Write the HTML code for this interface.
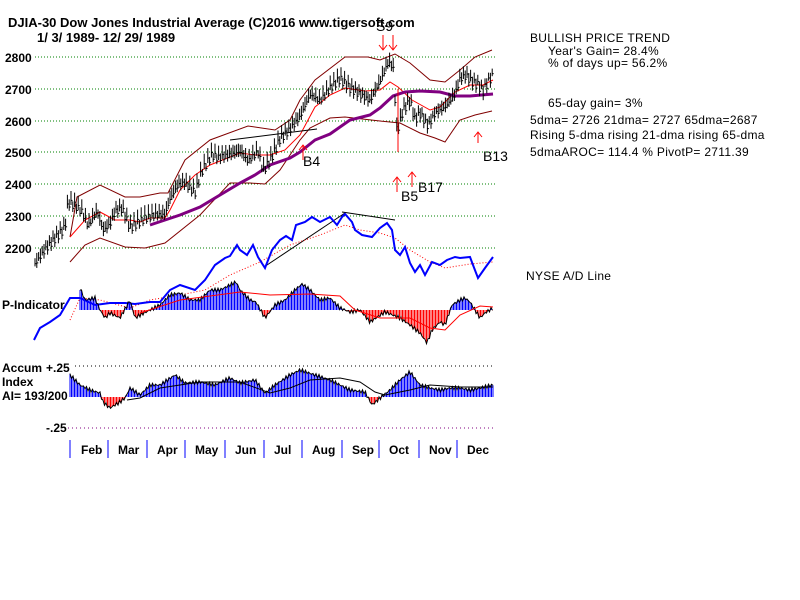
<!DOCTYPE html>
<html><head><meta charset="utf-8"><style>
html,body{margin:0;padding:0;background:#fff;}
svg{display:block;font-family:"Liberation Sans",sans-serif;}
</style></head><body>
<svg id="s" width="800" height="600" xmlns="http://www.w3.org/2000/svg">
<g font-size="12" fill="#000">
<text x="8" y="27" font-weight="bold" font-size="13">DJIA-30  Dow Jones Industrial Average   (C)2016 www.tigersoft.com</text>
<text x="37" y="42" font-weight="bold" font-size="13">1/ 3/ 1989- 12/ 29/ 1989</text>
<text x="5" y="62" font-weight="bold">2800</text>
<text x="5" y="94" font-weight="bold">2700</text>
<text x="5" y="126" font-weight="bold">2600</text>
<text x="5" y="157" font-weight="bold">2500</text>
<text x="5" y="189" font-weight="bold">2400</text>
<text x="5" y="221" font-weight="bold">2300</text>
<text x="5" y="253" font-weight="bold">2200</text>
<g letter-spacing="0.3">
<text x="530" y="42">BULLISH PRICE TREND</text>
<text x="548" y="55">Year's Gain= 28.4%</text>
<text x="548" y="67">% of days up= 56.2%</text>
<text x="548" y="107">65-day gain= 3%</text>
<text x="530" y="124">5dma= 2726 21dma= 2727 65dma=2687</text>
<text x="530" y="139">Rising 5-dma rising 21-dma rising 65-dma</text>
<text x="530" y="156">5dmaAROC= 114.4 %  PivotP= 2711.39</text>
<text x="526" y="280">NYSE A/D Line</text>
</g>
<text x="2" y="309" font-weight="bold">P-Indicator</text>
<text x="2" y="372" font-weight="bold">Accum</text>
<text x="2" y="386" font-weight="bold">Index</text>
<text x="2" y="400" font-weight="bold">AI= 193/200</text>
<text x="46" y="372" font-weight="bold">+.25</text>
<text x="46" y="432" font-weight="bold">-.25</text>
<text x="376" y="31" font-size="14">S9</text>
<text x="303" y="166" font-size="14">B4</text>
<text x="401" y="201" font-size="14">B5</text>
<text x="418" y="192" font-size="14">B17</text>
<text x="483" y="161" font-size="14">B13</text>
<g font-size="12" font-weight="bold">
<text x="81" y="454">Feb</text><text x="118" y="454">Mar</text><text x="157" y="454">Apr</text><text x="195" y="454">May</text><text x="235" y="454">Jun</text><text x="274" y="454">Jul</text><text x="312" y="454">Aug</text><text x="352" y="454">Sep</text><text x="389" y="454">Oct</text><text x="429" y="454">Nov</text><text x="467" y="454">Dec</text>
</g>
</g>
<g id="d"></g>
</svg>
<script>
var NS="http://www.w3.org/2000/svg",G=document.getElementById('d');
function el(t,a){var e=document.createElementNS(NS,t);for(var k in a)e.setAttribute(k,a[k]);G.appendChild(e);return e;}
function pl(p,c,w,dash){var s=p.map(function(q){return q[0]+','+q[1]}).join(' ');var a={points:s,fill:'none',stroke:c,'stroke-width':w||1};if(dash)a['stroke-dasharray']=dash;el('polyline',a);}
function interp(p,x){for(var i=0;i<p.length-1;i++){if(x>=p[i][0]&&x<=p[i+1][0]){var t=(x-p[i][0])/(p[i+1][0]-p[i][0]||1);return p[i][1]+t*(p[i+1][1]-p[i][1]);}}return p[p.length-1][1];}
[57,89,121,152,184,216,248].forEach(function(y){el('line',{x1:35,x2:495,y1:y,y2:y,stroke:'#008000','stroke-dasharray':'1,2'});});
el('line',{x1:75,x2:495,y1:366,y2:366,stroke:'#000','stroke-dasharray':'1,3'});
el('line',{x1:68,x2:495,y1:428,y2:428,stroke:'#800080','stroke-dasharray':'1,3'});
[70,108,147,185,225,264,302,342,379,419,457].forEach(function(x){el('line',{x1:x,x2:x,y1:440,y2:458,stroke:'#0000ff'});});
pl([[70,237],[77,197],[100,185],[125,197],[140,197],[160,193],[168,193],[185,160],[210,140],[248,126],[275,130],[290,120],[300,100],[315,80],[345,57],[368,57],[380,60],[395,54],[410,63],[430,80],[445,82],[460,70],[475,57],[492,50]],'#800000');
pl([[70,262],[85,245],[100,238],[125,247],[145,248],[165,243],[200,215],[230,183],[250,183],[265,184],[280,170],[300,140],[310,128],[330,118],[345,117],[380,121],[400,123],[420,133],[435,138],[445,142],[460,120],[475,115],[492,111]],'#800000');
pl([[70,237],[85,220],[100,212],[115,220],[130,220],[140,222],[150,218],[165,218],[170,210],[180,190],[195,175],[210,165],[240,153],[255,155],[270,155],[285,150],[300,135],[315,107],[330,95],[345,88],[365,91],[380,90],[390,82],[398,87],[412,100],[430,110],[440,107],[455,92],[470,85],[483,85],[493,80]],'#ff0000');
pl([[150,225],[165,220],[180,215],[200,207],[220,195],[240,183],[255,175],[270,165],[290,158],[300,152],[315,140],[330,134],[350,120],[370,115],[380,108],[393,96],[405,92],[420,91],[440,92],[455,96],[470,96],[493,94]],'#800080',3);
var pp=[[35,2145],[45,2190],[55,2225],[65,2260],[68,2340],[75,2330],[82,2310],[88,2265],[97,2310],[103,2250],[110,2270],[115,2310],[122,2320],[130,2260],[135,2270],[145,2290],[155,2300],[165,2300],[170,2350],[178,2395],[185,2400],[195,2370],[202,2440],[212,2490],[218,2480],[230,2490],[240,2500],[248,2470],[258,2500],[263,2440],[270,2470],[280,2540],[290,2570],[300,2610],[310,2680],[320,2660],[330,2700],[340,2730],[350,2700],[360,2680],[370,2660],[380,2720],[388,2780],[393,2770],[397,2560],[403,2630],[410,2660],[415,2600],[420,2620],[428,2580],[435,2620],[445,2640],[455,2680],[460,2730],[466,2740],[472,2720],[478,2710],[483,2690],[488,2720],[493,2740]];
function py(v){return 57+(2800-v)*0.3167;}
for(var x=35;x<=493;x+=1.8){var v=interp(pp,x)+Math.sin(x*1.7)*12;var y=py(v);var h=5+Math.abs(Math.sin(x*0.9))*5;el('line',{x1:x.toFixed(1),x2:x.toFixed(1),y1:(y-h).toFixed(1),y2:(y+h/2).toFixed(1),stroke:'#000'});el('line',{x1:x.toFixed(1),x2:(x+1.5).toFixed(1),y1:y.toFixed(1),y2:y.toFixed(1),stroke:'#000'});}
el('line',{x1:398,x2:398,y1:89,y2:152,stroke:'#ff0000'});
pl([[230,140],[317,129]],'#000');pl([[264,267],[345,213]],'#000');pl([[342,212],[395,220]],'#000');
function arrow(x,y1,y2,up){el('line',{x1:x,x2:x,y1:y1,y2:y2,stroke:'#ff0000'});var t=up?y1:y2,d=up?5:-5;pl([[x-4,t+d],[x,t],[x+4,t+d]],'#ff0000');}
arrow(383,35,50,false);arrow(393,35,50,false);arrow(303,145,160,true);arrow(397,177,192,true);arrow(412,172,187,true);arrow(478,132,143,true);
pl([[70,320],[80,298],[100,300],[130,308],[150,300],[180,295],[205,290],[230,275],[260,262],[290,245],[320,235],[345,225],[360,230],[380,233],[395,238],[410,250],[430,262],[445,268],[470,264],[493,262]],'#ff0000',1,'1,2');
pl([[34,340],[40,328],[50,322],[60,315],[70,298],[80,298],[95,305],[110,303],[125,303],[135,304],[150,302],[160,302],[170,290],[180,285],[195,290],[205,280],[215,265],[225,258],[230,256],[237,245],[240,250],[247,255],[253,245],[258,257],[265,268],[272,250],[280,240],[286,236],[292,240],[296,225],[305,222],[312,217],[320,222],[330,217],[337,225],[342,217],[345,214],[352,222],[355,230],[362,235],[372,237],[380,228],[387,223],[392,230],[395,250],[400,255],[405,247],[410,263],[415,272],[420,265],[425,275],[432,262],[440,265],[447,260],[455,257],[460,258],[470,257],[473,265],[478,278],[485,268],[493,257]],'#0000ff',2);
function hist(pts,zero,x0,x1){var out=[];for(var x=x0;x<=x1;x+=1.5){var v=interp(pts,x)+Math.sin(x*2.3)*2;out.push([x,v]);el('line',{x1:x,x2:x,y1:zero,y2:v.toFixed(1),stroke:v<zero?'#0000ff':'#ff0000'});}pl(out.map(function(q){return [q[0],q[1].toFixed(1)]}),'#000');}
hist([[80,288],[85,300],[95,298],[100,310],[105,318],[110,313],[120,318],[130,300],[135,318],[140,315],[150,310],[160,305],[170,295],[180,293],[190,300],[200,300],[210,290],[220,290],[236,282],[240,290],[250,300],[256,302],[265,318],[275,305],[285,300],[295,290],[302,284],[310,290],[320,300],[330,298],[340,308],[350,312],[360,310],[370,322],[385,312],[400,318],[410,325],[420,333],[427,343],[432,330],[440,322],[445,325],[452,305],[460,300],[465,298],[470,302],[475,310],[480,318],[485,313],[493,308]],310,80,493);
pl([[140,313],[180,300],[240,292],[270,295],[310,294],[340,296],[355,310],[380,318],[410,318],[430,328],[445,330],[460,315],[480,306],[493,307]],'#ff0000');
hist([[70,375],[80,385],[90,390],[100,393],[103,402],[110,408],[120,402],[125,398],[130,388],[140,395],[150,385],[160,385],[175,375],[185,383],[200,382],[215,385],[230,378],[240,383],[255,380],[265,393],[275,385],[290,375],[300,370],[315,375],[330,380],[340,385],[350,390],[365,392],[372,405],[380,398],[390,390],[400,380],[410,372],[420,385],[430,388],[440,390],[450,388],[460,388],[470,390],[480,388],[493,385]],397,70,493);
pl([[127,400],[140,398],[160,388],[200,382],[240,382],[270,393],[290,388],[310,380],[340,378],[360,382],[375,392],[385,395],[400,392],[410,390],[430,385],[460,387],[493,387]],'#000');
</script>
</body></html>
